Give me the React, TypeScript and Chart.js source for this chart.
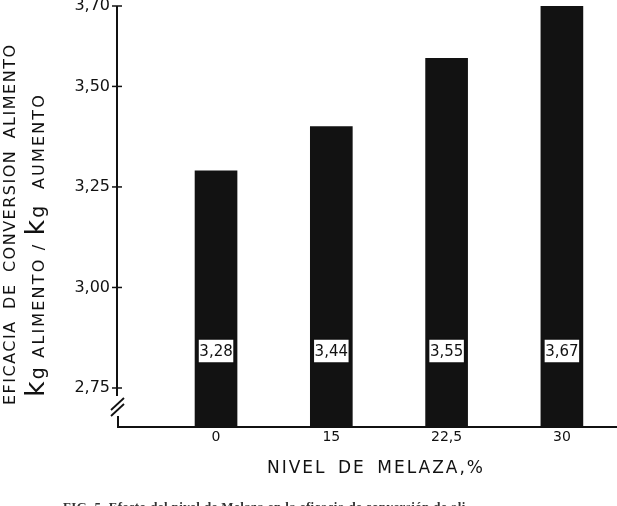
import React, { useEffect, useRef } from "react";
import { Chart, registerables } from "chart.js";
Chart.register(...registerables);

const categories = ["0", "15", "22,5", "30"];
const barValues = [3.29, 3.40, 3.57, 3.70];
const valueLabels = ["3,28", "3,44", "3,55", "3,67"];
const yTickValues = [2.75, 3.0, 3.25, 3.5, 3.7];
const yTickLabels = ["2,75", "3,00", "3,25", "3,50", "3,70"];
const yTitle1 = "EFICACIA DE CONVERSION ALIMENTO";
const yTitle2: [string, number][] = [["k", 27], ["g", 19], [" ALIMENTO / ", 16], ["k", 27], ["g", 19], ["  AUMENTO", 16]];
const xTitle = "NIVEL DE MELAZA,%";
const caption = "FIG. 5. Efecto del nivel de Melaza en la eficacia de conversión de ali-";

const FONT = "'DejaVu Sans', sans-serif";

function drawFitted(ctx: CanvasRenderingContext2D, text: string, font: string, x: number, y: number, width: number) {
  ctx.font = font;
  (ctx as any).letterSpacing = "0px";
  const w = ctx.measureText(text).width;
  const sp = (width - w) / Math.max(1, text.length - 1);
  (ctx as any).letterSpacing = sp + "px";
  ctx.fillText(text, x, y);
  (ctx as any).letterSpacing = "0px";
}

function drawWords(ctx: CanvasRenderingContext2D, text: string, font: string, x: number, y: number, width: number, letterSp: number) {
  ctx.font = font;
  (ctx as any).letterSpacing = letterSp + "px";
  const words = text.split(" ");
  const widths = words.map((w) => ctx.measureText(w).width - letterSp);
  const sum = widths.reduce((a, b) => a + b, 0);
  const gap = Math.max(6, (width - sum) / Math.max(1, words.length - 1));
  let u = x;
  words.forEach((w, i) => {
    ctx.fillText(w, u, y);
    u += widths[i] + gap;
  });
  (ctx as any).letterSpacing = "0px";
}

const decorPlugin = {
  id: "decor",
  afterDraw(chart: any) {
    const ctx: CanvasRenderingContext2D = chart.ctx;
    const ys = chart.scales.y;
    const area = chart.chartArea;
    const left = area.left;
    const bottom = area.bottom;
    ctx.save();
    ctx.strokeStyle = "#111";
    ctx.fillStyle = "#111";
    ctx.lineCap = "butt";
    // vertical axis
    const yTop = ys.getPixelForValue(yTickValues[yTickValues.length - 1]);
    const yLow = ys.getPixelForValue(yTickValues[0]);
    ctx.lineWidth = 2;
    ctx.beginPath();
    ctx.moveTo(left, yTop);
    ctx.lineTo(left, yLow + 8);
    ctx.stroke();
    // ticks
    ctx.lineWidth = 1.5;
    yTickValues.forEach((v) => {
      const p = ys.getPixelForValue(v);
      ctx.beginPath();
      ctx.moveTo(left - 5, p);
      ctx.lineTo(left + 5, p);
      ctx.stroke();
    });
    // break marks
    ctx.lineWidth = 1.8;
    for (let k = 0; k < 2; k++) {
      const oy = k * 6;
      ctx.beginPath();
      ctx.moveTo(left - 6, yLow + 22 + oy);
      ctx.lineTo(left + 7, yLow + 10 + oy);
      ctx.stroke();
    }
    // lower segment + baseline
    ctx.lineWidth = 2;
    ctx.beginPath();
    ctx.moveTo(left + 1, bottom - 11);
    ctx.lineTo(left + 1, bottom);
    ctx.lineTo(area.right, bottom);
    ctx.stroke();

    // value boxes
    const meta = chart.getDatasetMeta(0);
    meta.data.forEach((bar: any, i: number) => {
      const cx = bar.x;
      const cy = bottom - 76;
      const bw = 36, bh = 24;
      ctx.fillStyle = "#fff";
      ctx.fillRect(cx - bw / 2, cy - bh / 2, bw, bh);
      ctx.strokeStyle = "#111";
      ctx.lineWidth = 1.5;
      ctx.strokeRect(cx - bw / 2, cy - bh / 2, bw, bh);
      ctx.fillStyle = "#111";
      ctx.font = "15px " + FONT;
      ctx.textAlign = "center";
      ctx.textBaseline = "middle";
      ctx.fillText(valueLabels[i], cx, cy + 1);
    });

    // x title
    ctx.fillStyle = "#111";
    ctx.textAlign = "left";
    ctx.textBaseline = "alphabetic";
    drawWords(ctx, xTitle, "17px " + FONT, 267, 473, 216, 2);

    // y title line 1
    ctx.save();
    ctx.translate(15, 225);
    ctx.rotate(-Math.PI / 2);
    drawWords(ctx, yTitle1, "16px " + FONT, -180, 0, 360, 1.5);
    ctx.restore();

    // y title line 2 (mixed sizes)
    ctx.save();
    ctx.translate(44, 245);
    ctx.rotate(-Math.PI / 2);
    let total = 0;
    let chars = 0;
    yTitle2.forEach(([t, s]) => {
      ctx.font = s + "px " + FONT;
      total += ctx.measureText(t).width;
      chars += t.length;
    });
    const target = 304;
    const sp = (target - total) / chars;
    let u = -target / 2;
    yTitle2.forEach(([t, s]) => {
      ctx.font = s + "px " + FONT;
      (ctx as any).letterSpacing = sp + "px";
      ctx.fillText(t, u, 0);
      u += ctx.measureText(t).width;
    });
    (ctx as any).letterSpacing = "0px";
    ctx.restore();

    // caption (cut off at bottom)
    ctx.fillStyle = "#333";
    drawFitted(ctx, caption, "bold 13px 'Liberation Serif', serif", 63, 511, 407);
    ctx.restore();
  },
};

export default function App() {
  const ref = useRef<HTMLCanvasElement>(null);
  useEffect(() => {
    const chart = new Chart(ref.current!, {
      type: "bar",
      data: {
        datasets: [
          {
            data: barValues.map((v, i) => ({ x: i, y: v })),
            backgroundColor: "#121212",
            borderWidth: 0,
            barThickness: 42,
          },
        ],
      },
      options: {
        responsive: false,
        animation: false,
        layout: { padding: { top: 6, right: 0, left: 0, bottom: 0 } },
        plugins: { legend: { display: false }, tooltip: { enabled: false } },
        scales: {
          x: {
            type: "linear",
            offset: false,
            min: -0.859,
            max: 3.478,
            grid: { display: false, drawTicks: false, offset: false },
            border: { display: false },
            afterBuildTicks: (s: any) => {
              s.ticks = categories.map((_, i) => ({ value: i }));
            },
            afterFit: (s: any) => {
              s.height = 79;
              s.paddingLeft = 0;
              s.paddingRight = 0;
            },
            ticks: {
              padding: 2,
              color: "#111",
              font: { family: FONT, size: 14 },
              callback: (v: any) => categories[Math.round(v)] ?? "",
              maxRotation: 0,
              autoSkip: false,
            },
          },
          y: {
            type: "linear",
            min: 2.653,
            max: 3.7,
            grid: { display: false, drawTicks: false },
            border: { display: false },
            afterBuildTicks: (s: any) => {
              s.ticks = yTickValues.map((v) => ({ value: v }));
            },
            afterFit: (s: any) => {
              s.width = 117;
              s.paddingTop = 0;
              s.paddingBottom = 0;
            },
            ticks: {
              padding: 7,
              color: "#111",
              font: { family: FONT, size: 16 },
              callback: (v: any) => {
                const i = yTickValues.findIndex((t) => Math.abs(t - v) < 1e-6);
                return i >= 0 ? yTickLabels[i] : "";
              },
              autoSkip: false,
            },
          },
        },
      },
      plugins: [decorPlugin],
    } as any);
    return () => chart.destroy();
  }, []);
  return (
    <div style={{ position: "fixed", left: 0, top: 0, width: 617, height: 506, background: "#fff" }}>
      <canvas ref={ref} width={617} height={506} style={{ display: "block" }} />
    </div>
  );
}
